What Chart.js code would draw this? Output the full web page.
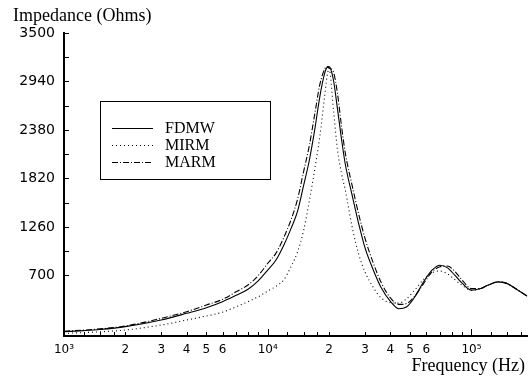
<!DOCTYPE html>
<html>
<head>
<meta charset="utf-8">
<script src="https://cdn.jsdelivr.net/npm/chart.js@4.4.1/dist/chart.umd.min.js"></script>
<style>
  html, body { margin: 0; padding: 0; background: #fff; }
  #wrap { width: 528px; height: 376px; }
</style>
</head>
<body>
<div id="wrap"><canvas id="c" width="528" height="376"></canvas></div>
<script>
// ---- data ----
const freqHz = [1000,1250,1500,2000,3000,4000,5000,6000,7000,8000,9000,10000,
  11000,12000,13000,14000,15000,16000,17000,18000,19000,19500,20000,
  21000,22000,23000,24000,26000,28000,30000,33000,36000,40000,44000,48000,
  53000,58000,64000,70000,76000,83000,90000,100000,110000,120000,135000,150000,165000,188000];

const fdmw = [50,62,75,108,185,262,327,396,470,540,640,762,
  880,1050,1240,1440,1740,2030,2380,2760,3030,3100,3112,
  2960,2620,2280,1990,1620,1290,1020,760,560,400,315,335,
  460,620,760,818,790,700,610,530,545,585,625,605,545,460];

const mirm = [30,40,48,69,127,185,231,275,338,396,454,520,
  575,650,800,970,1220,1560,1920,2300,2760,2980,3095,
  2620,2150,1880,1690,1250,940,740,560,440,385,380,430,
  540,650,730,750,720,650,585,528,545,585,625,605,545,460];

const marm = [55,68,82,115,204,281,358,423,511,589,700,840,
  960,1140,1340,1580,1900,2200,2560,2900,3080,3112,3095,
  3050,2800,2430,2120,1730,1400,1130,840,620,440,365,375,
  470,600,740,800,808,745,645,548,548,585,625,605,545,460];

const seriesNames = ['FDMW', 'MIRM', 'MARM'];

const yTickValues = [3500, 3220, 2940, 2660, 2380, 2100, 1820, 1540, 1260, 980, 700];
const yTickLabels = ['3500', '', '2940', '', '2380', '', '1820', '', '1260', '', '700'];

const xTickValues = [1000,1250,1500,1750,2000,3000,4000,5000,6000,7000,8000,9000,
  10000,12500,15000,17500,20000,30000,40000,50000,60000,70000,80000,90000,
  100000,125000,150000,175000];
const xTickLabels = ['10³','','','','2','3','4','5','6','','','',
  '10⁴','','','','2','3','4','5','6','','','',
  '10⁵','','',''];
const xMajorTicks = [1000, 10000, 100000];

const xMin = 1000, xMax = 188000, yMin = 0, yMax = 3500;

// ---- build ----
function pts(vals) { return freqHz.map((f, i) => ({ x: f, y: vals[i] })); }

const dashes = [[], [1, 3], [6, 2, 1, 2]];
const allVals = [fdmw, mirm, marm];

const decor = {
  id: 'decor',
  afterDraw(chart) {
    const ctx = chart.ctx;
    const xs = chart.scales.x, ys = chart.scales.y;
    const area = chart.chartArea;
    ctx.save();
    ctx.strokeStyle = '#000';
    ctx.lineWidth = 1;
    // inward ticks on y axis
    yTickValues.forEach(v => {
      const y = Math.round(ys.getPixelForValue(v)) + 0.5;
      ctx.beginPath(); ctx.moveTo(area.left, y); ctx.lineTo(area.left + 5, y); ctx.stroke();
    });
    // upward ticks on x axis
    xTickValues.forEach(v => {
      const x = Math.round(xs.getPixelForValue(v)) + 0.5;
      const len = xMajorTicks.includes(v) ? 7 : 4;
      ctx.beginPath(); ctx.moveTo(x, area.bottom); ctx.lineTo(x, area.bottom - len); ctx.stroke();
    });
    // axis titles
    ctx.fillStyle = '#000';
    ctx.font = '18px "Liberation Serif", "Times New Roman", serif';
    ctx.textBaseline = 'alphabetic';
    ctx.textAlign = 'left';
    ctx.fillText('Impedance (Ohms)', 13, 21);
    ctx.textAlign = 'right';
    ctx.fillText('Frequency (Hz)', 525, 371);
    // legend box
    ctx.strokeRect(100.5, 101.5, 170, 78);
    const rowsY = [128.5, 145.5, 162.5];
    ctx.font = '16px "Liberation Serif", "Times New Roman", serif';
    ctx.textAlign = 'left';
    ctx.textBaseline = 'middle';
    seriesNames.forEach((name, i) => {
      ctx.setLineDash(dashes[i]);
      ctx.beginPath(); ctx.moveTo(112, rowsY[i]); ctx.lineTo(153, rowsY[i]); ctx.stroke();
      ctx.setLineDash([]);
      ctx.fillText(name, 165, rowsY[i] + 0.5);
    });
    ctx.restore();
  }
};

new Chart(document.getElementById('c'), {
  type: 'line',
  data: {
    datasets: seriesNames.map((name, i) => ({
      label: name,
      data: pts(allVals[i]),
      borderColor: '#000',
      borderWidth: 1.1,
      borderDash: dashes[i],
      pointRadius: 0,
      fill: false,
      cubicInterpolationMode: 'monotone'
    }))
  },
  options: {
    responsive: false,
    devicePixelRatio: 1,
    animation: false,
    layout: { padding: { top: 33, right: 0, left: 0, bottom: 0 } },
    plugins: { legend: { display: false }, title: { display: false }, tooltip: { enabled: false } },
    scales: {
      x: {
        type: 'logarithmic',
        min: xMin, max: xMax,
        afterBuildTicks: s => { s.ticks = xTickValues.map(v => ({ value: v })); },
        afterFit: s => { s.height = 40; },
        grid: { display: true, drawOnChartArea: false, drawTicks: false },
        border: { display: true, color: '#000', width: 2 },
        ticks: {
          autoSkip: false, maxRotation: 0, minRotation: 0, padding: 7,
          color: '#000',
          font: { family: '"DejaVu Sans", sans-serif', size: 12 },
          callback: (v) => { const k = xTickValues.indexOf(v); return k >= 0 ? xTickLabels[k] : ''; }
        }
      },
      y: {
        type: 'linear',
        min: yMin, max: yMax,
        afterBuildTicks: s => { s.ticks = yTickValues.map(v => ({ value: v })); },
        afterFit: s => { s.width = 64; },
        grid: { display: true, drawOnChartArea: false, drawTicks: false },
        border: { display: true, color: '#000', width: 2 },
        ticks: {
          autoSkip: false, padding: 9,
          color: '#000',
          font: { family: '"DejaVu Sans", sans-serif', size: 14 },
          callback: (v) => { const k = yTickValues.indexOf(v); return k >= 0 ? yTickLabels[k] : ''; }
        }
      }
    }
  },
  plugins: [decor]
});
</script>
</body>
</html>
